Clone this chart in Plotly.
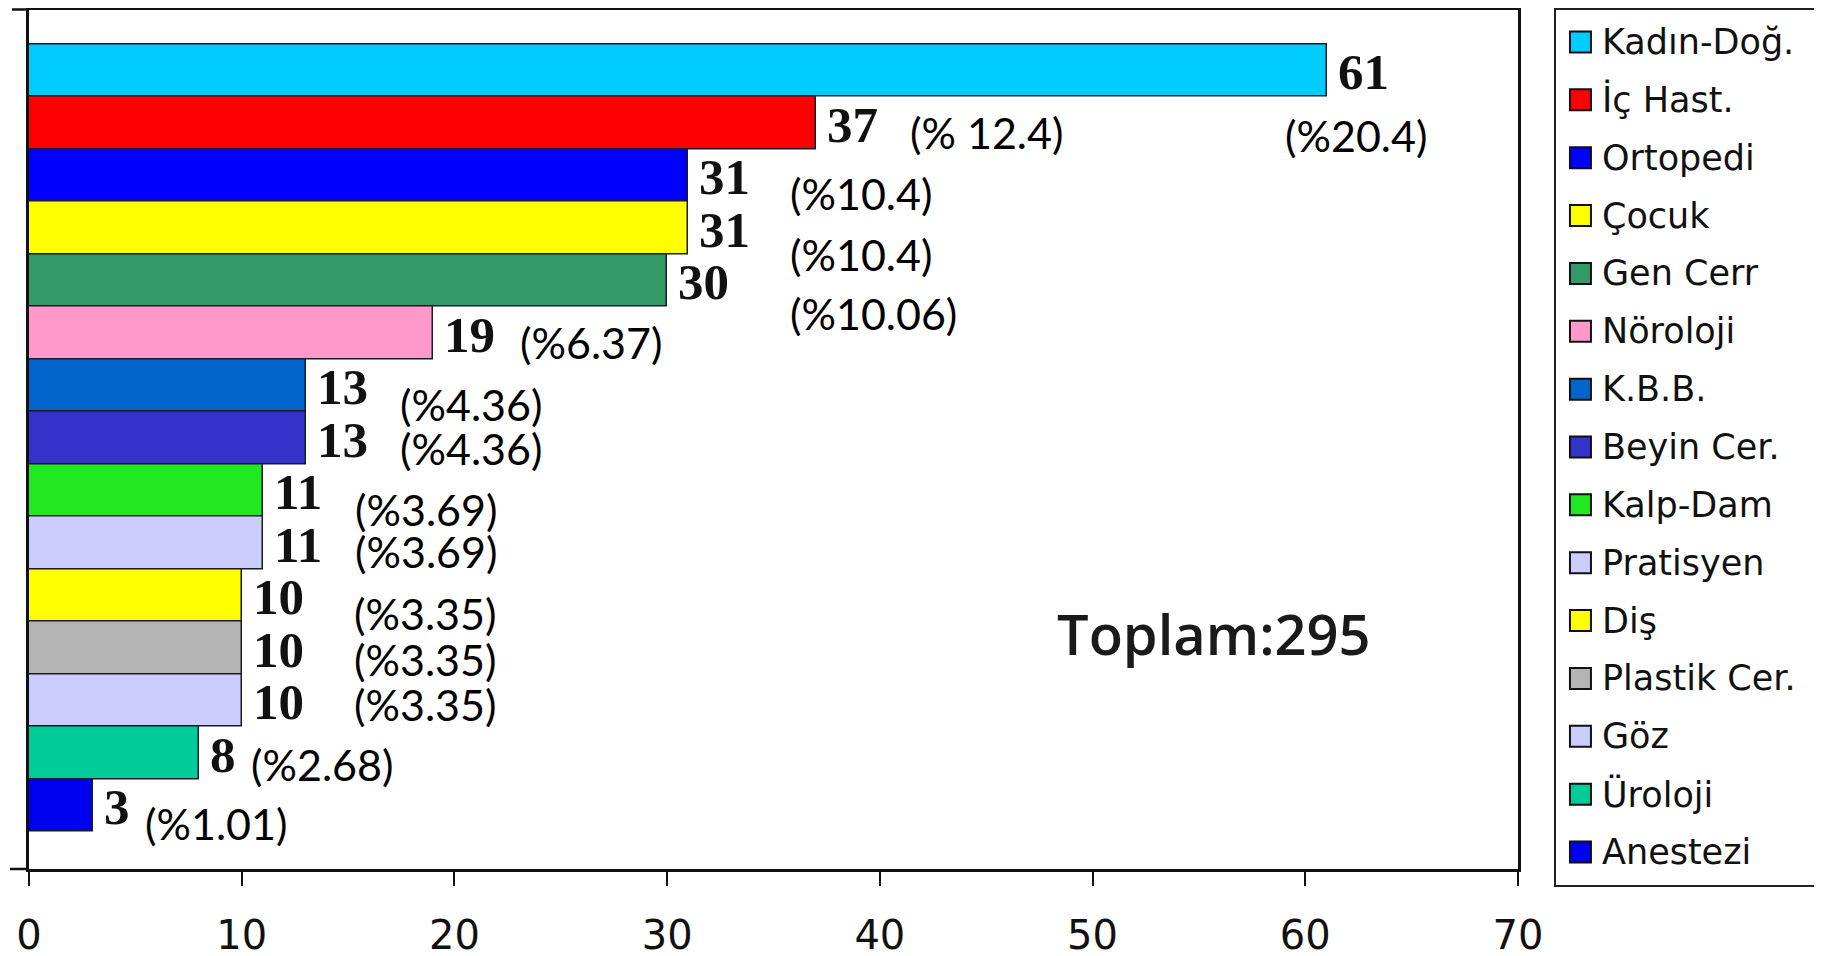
import plotly.graph_objects as go

# ---- data ----
categories = ["Kadın-Doğ.", "İç Hast.", "Ortopedi", "Çocuk", "Gen Cerr", "Nöroloji",
              "K.B.B.", "Beyin Cer.", "Kalp-Dam", "Pratisyen", "Diş", "Plastik Cer.",
              "Göz", "Üroloji", "Anestezi"]
values = [61, 37, 31, 31, 30, 19, 13, 13, 11, 11, 10, 10, 10, 8, 3]
pct_labels = ["(%20.4)", "(% 12.4)", "(%10.4)", "(%10.4)", "(%10.06)", "(%6.37)",
              "(%4.36)", "(%4.36)", "(%3.69)", "(%3.69)", "(%3.35)", "(%3.35)",
              "(%3.35)", "(%2.68)", "(%1.01)"]
total_label = "Toplam:295"
x_ticks = [0, 10, 20, 30, 40, 50, 60, 70]

# ---- styles / label placement ----
colors = ["#00CCFF", "#FF0000", "#0000FF", "#FFFF00", "#339966", "#FF99CC",
          "#0066CC", "#3333CC", "#22E822", "#CCCCFF", "#FFFF00", "#B4B4B4",
          "#CCCCFF", "#00CC99", "#0000F0"]
pct_x = [58.96, 41.33, 35.68, 35.68, 35.68, 22.99, 17.35, 17.35, 15.23, 15.23,
         15.19, 15.19, 15.19, 10.34, 5.38]
pct_dy = [1.25, 0.195, 0.34, 0.5, 0.64, 0.195, 0.376, 0.214, 0.376, 0.176,
          0.338, 0.233, 0.09, 0.233, 0.357]

# the page body has an 8px margin; lay out in window pixels and shift
OFF = 8
W, H = 1822 - OFF, 956 - OFF


def px(x):
    return (x - OFF) / W


def py(y):
    return min(1.0, (H - (y - OFF)) / H)


TOP = 9.5          # window y of the plot frame's top line (reference ~5, clamped)
BOTTOM = 869
BAR_PX = 52.5      # one category slot in pixels
FIRST_BAR_TOP = 44

fig = go.Figure()
fig.add_trace(go.Bar(
    x=values, y=categories, orientation="h", width=1.0,
    marker=dict(color=colors, line=dict(color="#1a1a2a", width=1.5)),
    xaxis="x", yaxis="y", showlegend=False, hoverinfo="x+y",
))

# legend drawn in its own small axes
fig.add_trace(go.Scatter(
    x=[0.093] * len(categories), y=categories, mode="markers",
    marker=dict(symbol="square", size=21, color=colors, line=dict(color="#111", width=2)),
    xaxis="x2", yaxis="y2", showlegend=False, hoverinfo="skip",
))

annotations = []
for i, (c, v) in enumerate(zip(categories, values)):
    annotations.append(dict(
        x=v, y=i, xref="x", yref="y", text=str(v), showarrow=False,
        xanchor="left", yanchor="middle", xshift=9, yshift=-2,
        font=dict(family="Liberation Serif", size=51, color="#111", weight="bold"),
    ))
    annotations.append(dict(
        x=pct_x[i], y=i + pct_dy[i], xref="x", yref="y", text=pct_labels[i],
        showarrow=False, xanchor="left", yanchor="middle",
        font=dict(family="Lato", size=43, color="#000"),
    ))
    annotations.append(dict(
        x=0.167, y=i, xref="x2", yref="y2", text=c, showarrow=False,
        xanchor="left", yanchor="middle",
        font=dict(family="DejaVu Sans", size=35, color="#111"),
    ))
annotations.append(dict(
    x=55.7, y=10.72, xref="x", yref="y", text=total_label, showarrow=False,
    xanchor="center", yanchor="middle",
    font=dict(family="Open Sans", size=56, color="#1a1a1a", weight=600),
))

yb, yt = py(BOTTOM), py(TOP)
x0, x1 = px(29), px(1518)
n = len(categories)
y_range = [n - 0.5 + (BOTTOM - (FIRST_BAR_TOP + n * BAR_PX)) / BAR_PX,
           -0.5 - (FIRST_BAR_TOP - TOP) / BAR_PX]

fig.update_layout(
    width=W, height=H,
    margin=dict(l=0, r=0, t=0, b=0, autoexpand=False),
    paper_bgcolor="white", plot_bgcolor="white",
    bargap=0,
    xaxis=dict(domain=[x0, x1], range=[0, 70], tickvals=x_ticks, automargin=False,
               ticks="outside", ticklen=14, tickwidth=2, tickcolor="#111",
               showline=True, linewidth=2.5, linecolor="#111", mirror=True,
               showgrid=False, zeroline=False, anchor="y",
               ticklabelstandoff=15,
               tickfont=dict(family="DejaVu Sans", size=40, color="#111")),
    yaxis=dict(domain=[yb, yt], type="category", categoryorder="array", automargin=False,
               categoryarray=categories, range=y_range,
               showticklabels=False, ticks="", showgrid=False, zeroline=False,
               showline=True, linewidth=2.5, linecolor="#111", mirror=True,
               anchor="x"),
    xaxis2=dict(domain=[px(1556), px(1819)], range=[0, 1], anchor="y2", automargin=False,
                showticklabels=False, ticks="", showgrid=False, zeroline=False,
                showline=True, linewidth=2, linecolor="#222", mirror=True),
    yaxis2=dict(domain=[py(885), py(10)], type="category", automargin=False,
                categoryorder="array", categoryarray=categories,
                range=[14.57, -0.553], anchor="x2",
                showticklabels=False, ticks="", showgrid=False, zeroline=False,
                showline=True, linewidth=2, linecolor="#222", mirror=True),
    annotations=annotations,
    shapes=[
        dict(type="line", xref="paper", yref="paper", x0=px(10), x1=x0, y0=yb, y1=yb,
             line=dict(color="#111", width=2.5)),
        dict(type="line", xref="paper", yref="paper", x0=px(12), x1=x0, y0=yt, y1=yt,
             line=dict(color="#111", width=2.5)),
    ],
)

fig.write_html("out.html")
